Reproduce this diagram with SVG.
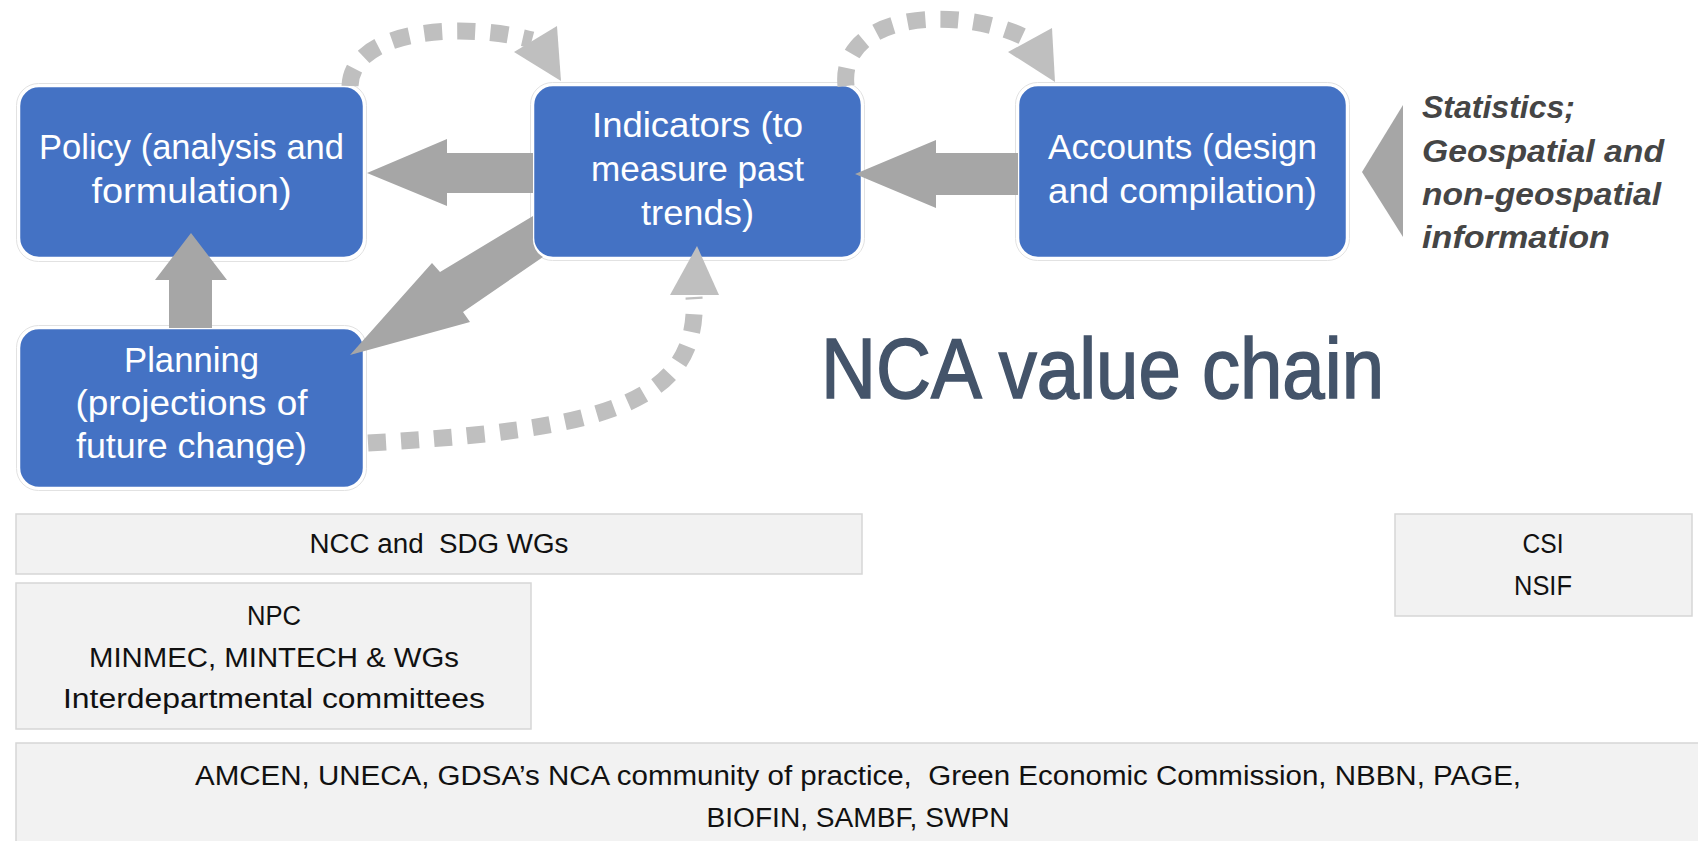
<svg xmlns="http://www.w3.org/2000/svg" width="1698" height="841" viewBox="0 0 1698 841">
<style>
.bg{fill:#FFFFFF}
.blue{fill:#4472C4;stroke:#FFFFFF;stroke-width:2.5}
.halo{fill:none;stroke:#E2E2E2;stroke-width:1}
.wt{font-family:"Liberation Sans",Arial,sans-serif;font-size:35px;fill:#FFFFFF;text-anchor:middle}
.gbox{fill:#F2F2F2;stroke:#D6D6D6;stroke-width:1.5}
.bt{font-family:"Liberation Sans",Arial,sans-serif;font-size:27px;fill:#111111;text-anchor:middle}
.st{font-family:"Liberation Sans",Arial,sans-serif;font-size:32px;font-weight:bold;font-style:italic;fill:#454545}
.title{font-family:"Liberation Sans Narrow","Liberation Sans",Arial,sans-serif;font-size:86px;fill:#44546A;stroke:#44546A;stroke-width:1.6}
.big{fill:#A6A6A6}
.dot{fill:none;stroke:#BFBFBF;stroke-width:17;stroke-dasharray:18 15}
.dhead{fill:#BFBFBF}
</style>
<rect class="bg" x="0" y="0" width="1698" height="841"/>

<g id="policy">
<rect class="halo" x="16.5" y="83.5" width="350" height="178" rx="22"/>
<rect class="blue" x="19" y="86" width="345" height="172" rx="20"/>
<text class="wt" x="191.5" y="159" textLength="305" lengthAdjust="spacingAndGlyphs">Policy (analysis and</text>
<text class="wt" x="191.5" y="203" textLength="200" lengthAdjust="spacingAndGlyphs">formulation)</text>
</g>

<g id="indicators">
<rect class="halo" x="530.5" y="82.5" width="334" height="178" rx="22"/>
<rect class="blue" x="533" y="85" width="329" height="173" rx="20"/>
<text class="wt" x="697.5" y="137" textLength="211" lengthAdjust="spacingAndGlyphs">Indicators (to</text>
<text class="wt" x="697.5" y="181" textLength="213" lengthAdjust="spacingAndGlyphs">measure past</text>
<text class="wt" x="697.5" y="225" textLength="113" lengthAdjust="spacingAndGlyphs">trends)</text>
</g>

<g id="accounts">
<rect class="halo" x="1015.5" y="82.5" width="334" height="178" rx="22"/>
<rect class="blue" x="1018" y="85" width="329" height="173" rx="20"/>
<text class="wt" x="1182.5" y="159" textLength="269" lengthAdjust="spacingAndGlyphs">Accounts (design</text>
<text class="wt" x="1182.5" y="203" textLength="269" lengthAdjust="spacingAndGlyphs">and compilation)</text>
</g>

<g id="planning">
<rect class="halo" x="16.5" y="325.5" width="350" height="165" rx="22"/>
<rect class="blue" x="19" y="328" width="345" height="160" rx="20"/>
<text class="wt" x="191.5" y="372" textLength="135" lengthAdjust="spacingAndGlyphs">Planning</text>
<text class="wt" x="191.5" y="415" textLength="232" lengthAdjust="spacingAndGlyphs">(projections of</text>
<text class="wt" x="191.5" y="458" textLength="231" lengthAdjust="spacingAndGlyphs">future change)</text>
</g>

<g id="sources">
<text class="st" x="1422" y="118" textLength="153" lengthAdjust="spacingAndGlyphs">Statistics;</text>
<text class="st" x="1422" y="162" textLength="242" lengthAdjust="spacingAndGlyphs">Geospatial and</text>
<text class="st" x="1422" y="205" textLength="239" lengthAdjust="spacingAndGlyphs">non-geospatial</text>
<text class="st" x="1422" y="248" textLength="188" lengthAdjust="spacingAndGlyphs">information</text>
</g>

<g id="title">
<text class="title" x="821" y="398" textLength="563" lengthAdjust="spacingAndGlyphs">NCA value chain</text>
</g>

<g id="ncc">
<rect class="gbox" x="16" y="514" width="846" height="60"/>
<text class="bt" x="439" y="553" textLength="259" lengthAdjust="spacingAndGlyphs" xml:space="preserve">NCC and  SDG WGs</text>
</g>

<g id="npc">
<rect class="gbox" x="16" y="583" width="515" height="146"/>
<text class="bt" x="274" y="625" textLength="54" lengthAdjust="spacingAndGlyphs">NPC</text>
<text class="bt" x="274" y="667" textLength="370" lengthAdjust="spacingAndGlyphs">MINMEC, MINTECH &amp; WGs</text>
<text class="bt" x="274" y="708" textLength="422" lengthAdjust="spacingAndGlyphs">Interdepartmental committees</text>
</g>

<g id="csi">
<rect class="gbox" x="1395" y="514" width="297" height="102"/>
<text class="bt" x="1543" y="553" textLength="41" lengthAdjust="spacingAndGlyphs">CSI</text>
<text class="bt" x="1543" y="595" textLength="58" lengthAdjust="spacingAndGlyphs">NSIF</text>
</g>

<g id="partners">
<rect class="gbox" x="16" y="743" width="1692" height="110"/>
<text class="bt" x="858" y="785" textLength="1326" lengthAdjust="spacingAndGlyphs" xml:space="preserve">AMCEN, UNECA, GDSA’s NCA community of practice,  Green Economic Commission, NBBN, PAGE,</text>
<text class="bt" x="858" y="827" textLength="303" lengthAdjust="spacingAndGlyphs">BIOFIN, SAMBF, SWPN</text>
</g>

<g id="connectors">
<polygon class="big" points="1018,153 936,153 936,140 855,174 936,208 936,195 1018,195"/>
<polygon class="big" points="533,153 447,153 447,139 367,173 447,206 447,193 533,193"/>
<polygon class="big" points="169,328 169,280 155,280 191,233 227,280 212,280 212,328"/>
<path class="big" d="M533 216 L440 272 L432 263 L350 355 L470 322 L463 312 L543 257 A20 20 0 0 1 533 238 Z"/>
<polygon class="big" points="1362,172 1403,105 1403,237"/>
<path class="dot" d="M350 86 C352 28 465 22 532 40"/>
<polygon class="dhead" points="514,52 557,26 561,81"/>
<path class="dot" d="M846 86 C838 10 965 5 1030 40"/>
<polygon class="dhead" points="1008,52 1052,28 1055,82"/>
<path class="dot" d="M368 443 C600 430 700 405 694 297"/>
<polygon class="dhead" points="670,295 719,295 697,246"/>
</g>
</svg>
